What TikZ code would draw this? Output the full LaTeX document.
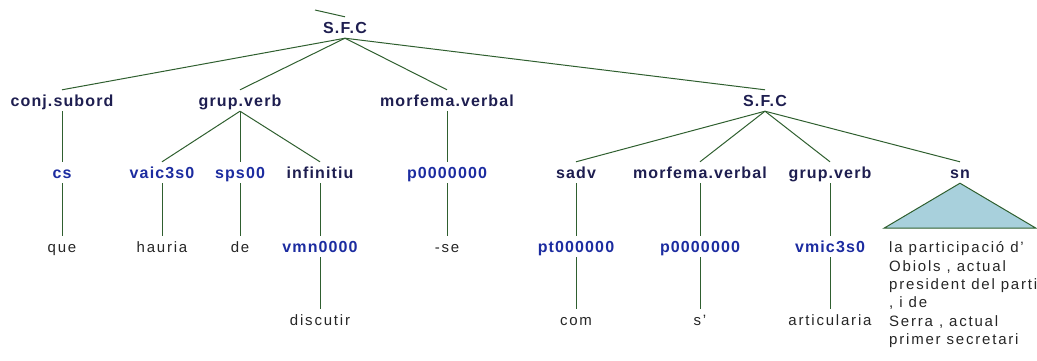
\documentclass[tikz,border=0pt]{standalone}
\usepackage{fontspec}
\setmainfont{Liberation Sans}
\newfontfamily\catfont[LetterSpace=7]{Liberation Sans}
\newfontfamily\wordfont[LetterSpace=12]{Liberation Sans}
\definecolor{catblue}{HTML}{1E1E50}
\definecolor{tagblue}{HTML}{1C2CA0}
\definecolor{branchgreen}{HTML}{2F5F2F}
\definecolor{sncyan}{HTML}{A8D0DC}
\tikzset{cat/.style = {anchor=base, inner xsep=1pt, inner ysep=2pt, text height=14pt, text depth=3pt,
                       font=\catfont\bfseries\fontsize{16}{18}\selectfont, text=catblue}}
\tikzset{tag/.style = {cat, text=tagblue}}
\tikzset{word/.style = {anchor=base, inner xsep=1pt, inner ysep=2pt, text height=14pt, text depth=3pt,
                        font=\wordfont\fontsize{15}{18}\selectfont, text=black!85}}
\tikzset{phrase/.style = {anchor=north west, inner sep=0, align=left,
                          font=\wordfont\fontsize{15}{18.4}\selectfont, text=black!85}}
\tikzset{branch/.style = {draw=branchgreen, line width=1pt}}

\begin{document}
\begin{tikzpicture}[x=1pt,y=-1pt]
    \useasboundingbox (0,0) rectangle (1037,360);
    \node[cat] (root) at (345,33) {S.F.C};
    \coordinate (up) at (315,10);
    % first level
    \node[cat] (conj) at (62,106) {conj.subord};
    \node[cat] (gv) at (240,106) {grup.verb};
    \node[cat] (morf) at (447,106) {morfema.verbal};
    \node[cat] (sfc) at (765,106) {S.F.C};
    % second level
    \node[tag] (cs) at (62,178) {cs};
    \node[tag] (vaic) at (162,178) {vaic3s0};
    \node[tag] (sps) at (240,178) {sps00};
    \node[cat] (inf) at (320,178) {infinitiu};
    \node[tag] (p1) at (447,178) {p0000000};
    \node[cat] (sadv) at (576,178) {sadv};
    \node[cat] (morf2) at (700,178) {morfema.verbal};
    \node[cat] (gv2) at (830,178) {grup.verb};
    \node[cat] (sn) at (960,178) {sn};
    % third level
    \node[word] (que) at (62,252) {que};
    \node[word] (hauria) at (162,252) {hauria};
    \node[word] (de) at (240,252) {de};
    \node[tag] (vmn) at (320,252) {vmn0000};
    \node[word] (se) at (447,252) {-se};
    \node[tag] (pt) at (576,252) {pt000000};
    \node[tag] (p2) at (700,252) {p0000000};
    \node[tag] (vmic) at (830,252) {vmic3s0};
    % fourth level
    \node[word] (discutir) at (320,325) {discutir};
    \node[word] (com) at (576,325) {com};
    \node[word] (s) at (700,325) {s’};
    \node[word] (articularia) at (830,325) {articularia};

    \draw[branch] (up) -- (root.north);
    \foreach \a/\b in {root/conj, root/gv, root/morf, root/sfc,
                       conj/cs, cs/que,
                       gv/vaic, gv/sps, gv/inf, vaic/hauria, sps/de, inf/vmn, vmn/discutir,
                       morf/p1, p1/se,
                       sfc/sadv, sfc/morf2, sfc/gv2, sfc/sn,
                       sadv/pt, pt/com, morf2/p2, p2/s, gv2/vmic, vmic/articularia} {
        \draw[branch] (\a.south) -- (\b.north);
    }
    % collapsed sn
    \draw[branch, fill=sncyan] (sn.south) -- ++(-76,45) -- ++(152,0) -- cycle;
    \node[phrase] (snleaf) at (889,241.5) {la participació d’\\Obiols , actual\\president del partit\\, i de\\Serra , actual\\primer secretari};
\end{tikzpicture}
\end{document}
